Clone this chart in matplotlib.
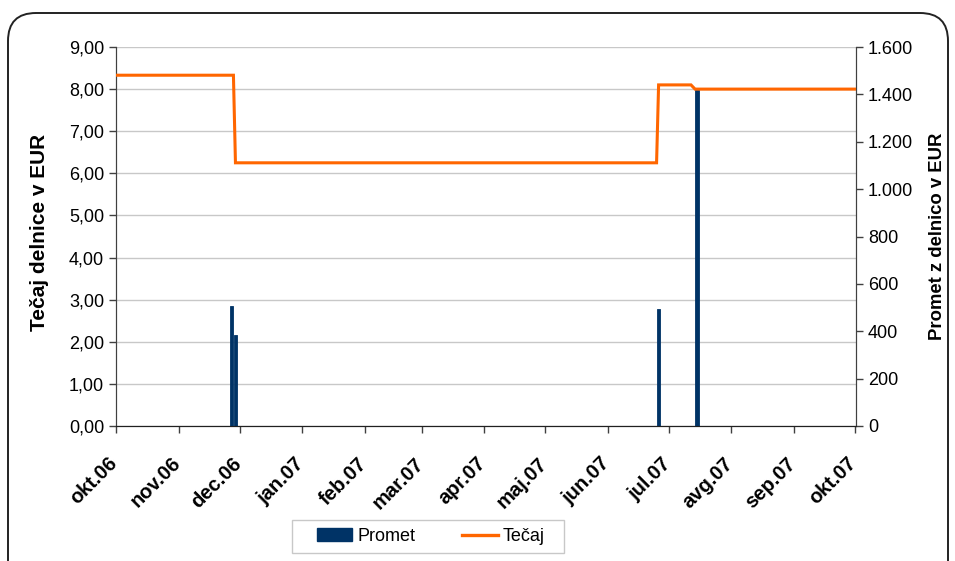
import matplotlib
matplotlib.use("Agg")
import matplotlib.pyplot as plt
from matplotlib.patches import FancyBboxPatch, Patch, Rectangle
from matplotlib.lines import Line2D
from matplotlib.ticker import FuncFormatter, MultipleLocator
import matplotlib.transforms as mtransforms
import pandas as pd

plt.rcParams['font.family'] = ['Liberation Sans', 'DejaVu Sans']

# ---- data ----
price_dates = ["2006-10-01 00:00", "2006-11-28 00:00", "2006-11-29 00:00", "2007-06-25 00:00",
               "2007-06-26 00:00", "2007-07-12 00:00", "2007-07-14 00:00", "2007-10-01 12:00"]
price_values = [8.33, 8.33, 6.25, 6.25, 8.10, 8.10, 8.00, 8.00]

turnover_dates = ["2006-11-27", "2006-11-29", "2007-06-26", "2007-07-15"]
turnover_values = [505, 385, 495, 1420]

month_ticks = ["2006-10-01", "2006-11-01", "2006-12-01", "2007-01-01", "2007-02-01",
               "2007-03-01", "2007-04-01", "2007-05-01", "2007-06-01", "2007-07-01",
               "2007-08-01", "2007-09-01", "2007-10-01"]
month_labels = ["okt.06", "nov.06", "dec.06", "jan.07", "feb.07", "mar.07", "apr.07",
                "maj.07", "jun.07", "jul.07", "avg.07", "sep.07", "okt.07"]

left_label = "Tečaj delnice v EUR"
right_label = "Promet z delnico v EUR"
series_names = ["Promet", "Tečaj"]

# ---- figure ----
W, H = 955, 561
fig = plt.figure(figsize=(W / 100, H / 100), dpi=100)
px = mtransforms.IdentityTransform()

# outer rounded frame (pixel coordinates)
frame = FancyBboxPatch((8, -40), 940, H - 13 + 40,
                       boxstyle="round,pad=0,rounding_size=28",
                       transform=px, facecolor="none", edgecolor="#222222",
                       linewidth=1.4, zorder=-1)
fig.patches.append(frame)

L, R, T, B = 116, 856, 47, 426
ax = fig.add_axes([L / W, 1 - B / H, (R - L) / W, (B - T) / H])
ax.patch.set_visible(False)
ax2 = ax.twinx()
ax2.patch.set_visible(False)

pd_dates = pd.to_datetime(price_dates, format="%Y-%m-%d %H:%M")
td_dates = pd.to_datetime(turnover_dates)

ax2.bar(td_dates, turnover_values, width=1.8, color="#003366",
        edgecolor="#003366", linewidth=0.6, zorder=2)
ax2.plot(pd_dates, price_values, color="#FF6600", linewidth=2.2,
         transform=ax.transData, zorder=3, solid_joinstyle="miter")

ax.set_ylim(0, 9)
ax2.set_ylim(0, 1600)
ax.set_xlim(pd.Timestamp("2006-10-01"), pd.Timestamp("2007-10-01 12:00"))

ax.yaxis.set_major_locator(MultipleLocator(1))
ax.yaxis.set_major_formatter(FuncFormatter(lambda v, p: f"{v:.2f}".replace(".", ",")))
ax2.yaxis.set_major_locator(MultipleLocator(200))
ax2.yaxis.set_major_formatter(FuncFormatter(lambda v, p: f"{int(v):,}".replace(",", ".")))

ax.yaxis.grid(True, color="#C8C8C8", linewidth=1.0)
ax.set_axisbelow(True)

for a in (ax, ax2):
    a.spines["top"].set_visible(False)
    a.spines["left"].set_color("#404040")
    a.spines["right"].set_color("#404040")
    a.spines["bottom"].set_color("#202020")
    a.tick_params(direction="out", length=5, width=1, colors="#404040",
                  labelcolor="black", labelsize=13)
ax.tick_params(axis="x", pad=15)

ax.set_xticks(pd.to_datetime(month_ticks))
ax.set_xticklabels(month_labels, rotation=45, ha="right", rotation_mode="anchor",
                   fontweight="bold", fontsize=14.5)
shift = mtransforms.ScaledTranslation(-8 / 100, 0, fig.dpi_scale_trans)
for lab in ax.get_xticklabels():
    lab.set_transform(lab.get_transform() + shift)

ax.set_ylabel(left_label, fontweight="bold", fontsize=15)
ax.yaxis.set_label_coords(-0.0905, 0.512)
ax2.set_ylabel(right_label, fontweight="bold", fontsize=13.3)
ax2.yaxis.set_label_coords(1.099, 0.50)

# legend frame and entries
fig.patches.append(Rectangle((292, H - 553), 272, 33, transform=px,
                             facecolor="white", edgecolor="#C8C8C8", linewidth=1.0))
handles = [Patch(facecolor="#003366", edgecolor="#003366"),
           Line2D([0], [0], color="#FF6600", linewidth=2.4)]
fig.legend(handles, series_names, loc="center", bbox_to_anchor=(431 / W, 1 - 536.5 / H),
           ncol=2, frameon=False, fontsize=13, handlelength=1.95, handleheight=0.75,
           handletextpad=0.3, columnspacing=2.6, borderpad=0.3)

fig.savefig("out.png", dpi=100)
